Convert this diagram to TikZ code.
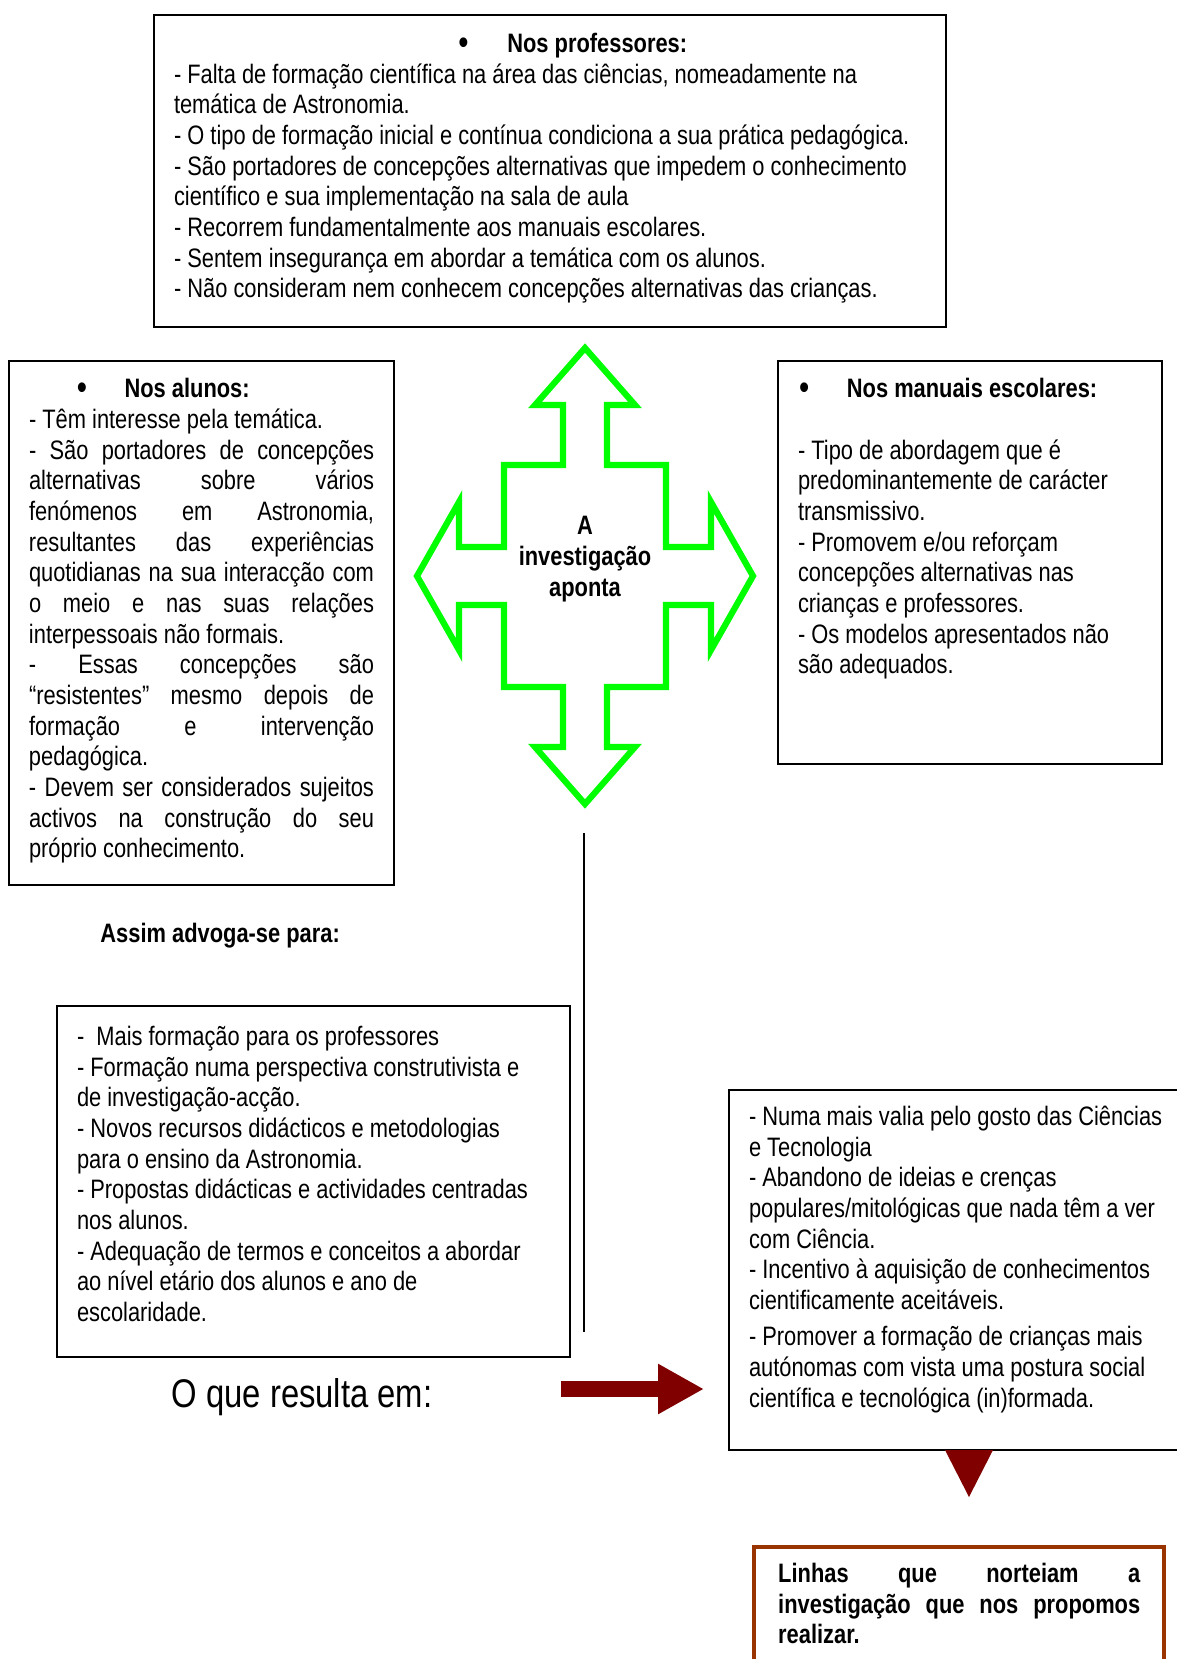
\documentclass[tikz,border=0pt]{standalone}
\usepackage{fontspec}
\setmainfont[FakeStretch=0.82]{Liberation Sans}
\usetikzlibrary{arrows.meta}

\definecolor{setaverde}{RGB}{0,255,0}
\definecolor{vinho}{RGB}{128,0,0}
\definecolor{tijolo}{RGB}{153,51,0}

% texto de uma caixa: largura, altura, altura da primeira linha, conteudo
\newcommand{\caixatexto}[4]{\parbox[c][#2][t]{#1}{\hyphenpenalty=10000\rule{0pt}{#3}#4}}
\newcommand{\marca}[2]{\makebox[#1][l]{\hspace*{#2}{\fontsize{16pt}{0pt}\selectfont\raisebox{-0.7pt}{\textbullet}}}}

\tikzset{
  caixa/.style={draw, line width=0.9pt, anchor=north west, inner xsep=9pt, inner ysep=0pt,
    font=\fontsize{12pt}{13.8pt}\selectfont},
  rotulo/.style={inner sep=0pt, font=\fontsize{12pt}{13.8pt}\selectfont\bfseries},
}

\begin{document}
\begin{tikzpicture}[x=0.45pt, y=-0.45pt]
        \useasboundingbox (0,0) rectangle (1177,1659);
        \clip (0,0) rectangle (1177,1659);

        % Caixa dos professores
        \node[caixa] (prof) at (153,14) {\caixatexto{338.4pt}{140.4pt}{16.9pt}{\raggedright
            \marca{150pt}{128pt}\textbf{Nos professores:}\\
            - Falta de formação científica na área das ciências, nomeadamente na\\
            temática de Astronomia.\\
            - O tipo de formação inicial e contínua condiciona a sua prática pedagógica.\\
            - São portadores de concepções alternativas que impedem o conhecimento\\
            científico e sua implementação na sala de aula\\
            - Recorrem fundamentalmente aos manuais escolares.\\
            - Sentem insegurança em abordar a temática com os alunos.\\
            - Não consideram nem conhecem concepções alternativas das crianças.}};

        % Caixa dos alunos (texto justificado)
        \node[caixa] (alunos) at (8,360) {\caixatexto{155.25pt}{235.8pt}{16.5pt}{%
            \marca{43pt}{21.5pt}\textbf{Nos alunos:}\\
            - Têm interesse pela temática.\\
            - São portadores de concepções\linebreak alternativas sobre vários\linebreak
            fenómenos em Astronomia,\linebreak resultantes das experiências\linebreak
            quotidianas na sua interacção com\linebreak o meio e nas suas relações\linebreak
            interpessoais não formais.\\
            - Essas concepções são\linebreak “resistentes” mesmo depois de\linebreak
            formação e intervenção\linebreak pedagógica.\\
            - Devem ser considerados sujeitos\linebreak activos na construção do seu\linebreak
            próprio conhecimento.}};

        % Caixa dos manuais escolares
        \node[caixa] (manuais) at (777,360) {\caixatexto{154.8pt}{181.35pt}{16.5pt}{\raggedright
            \marca{22pt}{0.5pt}\textbf{Nos manuais escolares:}\\[13.8pt]
            - Tipo de abordagem que é\\
            predominantemente de carácter\\
            transmissivo.\\
            - Promovem e/ou reforçam\\
            concepções alternativas nas\\
            crianças e professores.\\
            - Os modelos apresentados não\\
            são adequados.}};

        % Seta verde de quatro pontas
        \coordinate (centro) at (585,576);
        \begin{scope}[shift={(centro)}]
            \draw[setaverde, line width=2.8pt, line join=miter]
                (0,-228) -- (50,-171) -- (22,-171) -- (22,-111) -- (81,-111) -- (81,-29)
                -- (126,-29) -- (126,-74) -- (168,0) -- (126,74) -- (126,29) -- (81,29)
                -- (81,111) -- (22,111) -- (22,171) -- (50,171) -- (0,228) -- (-50,171)
                -- (-22,171) -- (-22,111) -- (-81,111) -- (-81,29) -- (-126,29) -- (-126,74)
                -- (-168,0) -- (-126,-74) -- (-126,-29) -- (-81,-29) -- (-81,-111)
                -- (-22,-111) -- (-22,-171) -- (-50,-171) -- cycle;
        \end{scope}
        \node[rotulo, align=center] (aponta) at (585,559) {A\\investigação\\aponta};

        % Linha vertical
        \coordinate (linhatopo) at (584,833);
        \coordinate (linhabase) at (584,1332);
        \draw[line width=0.9pt] (linhatopo) -- (linhabase);

        \node[rotulo, anchor=west] (assim) at (100,936) {Assim advoga-se para:};

        % Caixa do que se advoga
        \node[caixa] (advoga) at (56,1005) {\caixatexto{212.85pt}{157.95pt}{17.8pt}{\raggedright
            -\ \ Mais formação para os professores\\
            - Formação numa perspectiva construtivista e\\
            de investigação-acção.\\
            - Novos recursos didácticos e metodologias\\
            para o ensino da Astronomia.\\
            - Propostas didácticas e actividades centradas\\
            nos alunos.\\
            - Adequação de termos e conceitos a abordar\\
            ao nível etário dos alunos e ano de\\
            escolaridade.}};

        \node[inner sep=0pt, font=\fontsize{18pt}{21pt}\selectfont] (resultaem) at (302,1397) {O que resulta em:};

        % Caixa dos resultados
        \node[caixa] (resulta) at (728,1089) {\caixatexto{195pt}{162pt}{16pt}{\raggedright
            - Numa mais valia pelo gosto das Ciências\\
            e Tecnologia\\
            - Abandono de ideias e crenças\\
            populares/mitológicas que nada têm a ver\\
            com Ciência.\\
            - Incentivo à aquisição de conhecimentos\\
            cientificamente aceitáveis.\\[2.5pt]
            - Promover a formação de crianças mais\\
            autónomas com vista uma postura social\\
            científica e tecnológica (in)formada.}};

        % Setas cor de vinho
        \coordinate (setaini) at (561,1389);
        \coordinate (setafim) at (704,1389);
        \draw[vinho, line width=6.8pt, -{Triangle[length=20.7pt, width=21.2pt]}] (setaini) -- (setafim);
        \fill[vinho] (945,1450) -- (993,1450) -- (969,1497) -- cycle;

        % Caixa final
        \node[caixa, draw=tijolo, line width=2pt, inner xsep=10.8pt] (linhas) at (752,1545)
            {\caixatexto{162.9pt}{80pt}{15.9pt}{\bfseries
            Linhas que norteiam a\linebreak investigação que nos propomos\linebreak realizar.}};

    \end{tikzpicture}
\end{document}
